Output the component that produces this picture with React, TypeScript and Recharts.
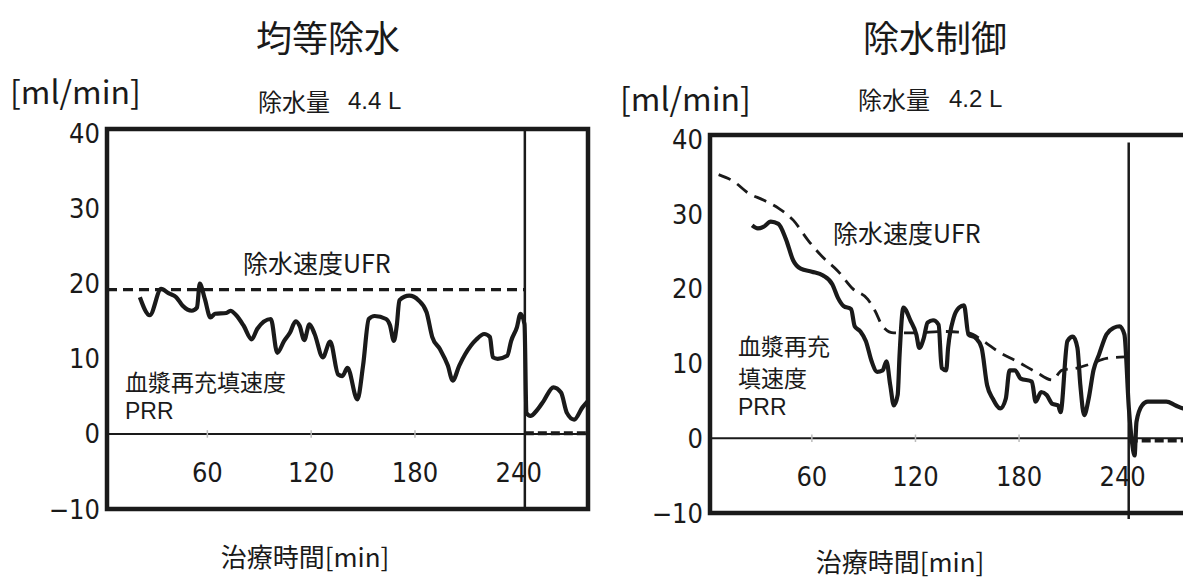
import React from 'react';
import { LineChart, Line, XAxis, YAxis, ReferenceLine, ReferenceArea } from 'recharts';

// ---------- shared axis ticks ----------
const xTicks = [60, 120, 180, 240];
const yTicks = [-10, 0, 10, 20, 30, 40];

// ---------- left panel: 均等除水 ----------
const leftPrr: [number, number][] = [
  [21, 18.2], [26.7, 15.8], [33.3, 19.3], [37.8, 18.7], [42, 18.2], [45.6, 17.1], [51, 16.4], [54, 16.8],
  [55.6, 20.0], [58.5, 18.0], [61.8, 15.5], [64.4, 16.0], [71, 16.1], [73.3, 16.4], [76.7, 15.8], [81, 14.4],
  [85.6, 12.6], [88.9, 14.0], [96.7, 15.3], [100.4, 10.8], [104.4, 12.4], [107.8, 13.5], [111, 15.0],
  [113.3, 14.4], [116, 12.5], [119, 14.6], [122, 13.3], [126.7, 10.2], [131, 12.3], [135.6, 7.9], [138, 7.7],
  [141, 8.8], [146.7, 4.6], [150, 9.1], [153.3, 15.3], [156.7, 15.7], [163.3, 15.3], [165.5, 14.5],
  [167.8, 12.4], [169.5, 14.5], [171, 17.8], [176.7, 18.4], [182, 17.8], [186.7, 16.2], [190, 12.9],
  [194.4, 11.3], [199, 9.1], [201.8, 7.1], [205.6, 9.1], [209, 10.6], [215.6, 12.6], [220, 13.3],
  [223.3, 12.9], [225, 10.2], [227.8, 10.0], [233.3, 10.4], [235.6, 12.4], [238.9, 14.2], [241, 16.0],
  [243.3, 14.6], [244.4, 2.8], [246.7, 2.4], [251, 3.3], [254.4, 4.4], [260, 6.2], [264.4, 5.5],
  [267.8, 2.8], [272, 1.9], [276.7, 3.5], [280, 4.4],
];
const leftUfr: [number, number][] = [[2, 19.2], [243.5, 19.2]];
const leftAfter: [number, number][] = [[243.5, 0.1], [280, 0.1]];

// ---------- right panel: 除水制御 ----------
const rightPrr: [number, number][] = [
  [25.4, 28.5], [28.7, 28.1], [31.9, 28.3], [36.2, 29.0], [40.6, 28.7], [44.9, 26.7], [49.2, 23.8],
  [53.5, 22.7], [60, 22.3], [66.5, 21.8], [71.9, 20.6], [75.1, 18.8], [78.4, 17.7], [82.7, 17.3],
  [84.8, 15.0], [88.1, 14.3], [91.3, 13.0], [94.6, 10.3], [97.8, 8.9], [101, 9.1], [103.2, 10.3],
  [105.4, 7.1], [107.5, 4.4], [109.7, 5.8], [110.8, 11.2], [113, 17.5], [117.2, 15.7], [120.5, 13.9],
  [122.2, 12.1], [124.8, 13.4], [127, 15.5], [130.2, 15.8], [133.4, 15.2], [135.2, 9.4], [137.8, 9.1],
  [138.9, 12.1], [142.1, 16.1], [145.3, 17.5], [148.1, 17.8], [150.7, 13.9], [155, 13.4], [158.3, 12.1],
  [161.5, 7.1], [164.8, 5.3], [169.1, 4.0], [172.3, 5.3], [174.5, 9.1], [177.7, 9.1], [180.9, 8.0],
  [187.4, 7.6], [189.6, 4.9], [192.8, 6.2], [196, 5.8], [199.3, 4.6], [202.6, 4.4], [204, 3.5],
  [208, 13.0], [211.2, 13.6], [213.8, 12.1], [215.5, 7.1], [217.7, 3.1], [220.3, 5.3], [223.1, 9.1],
  [226.3, 11.2], [230.6, 13.9], [234.9, 14.8], [238.2, 15.0], [241, 13.9], [243.6, 4.0], [245.4, -0.5],
  [246.9, -2.3], [248, 2.2], [251.2, 4.4], [254.5, 4.9], [265.3, 4.9], [270.7, 4.4], [275, 4.0], [279, 3.9],
];
const rightUfr: [number, number][] = [
  [6, 35.3], [14.6, 34.4], [23.3, 32.8], [31.9, 31.9], [40.6, 30.8], [49.2, 29.2], [57.8, 26.5],
  [66.5, 24.2], [75, 22.4], [83.8, 20.0], [92.4, 18.6], [96.7, 17.0], [101, 15.0], [107.5, 14.1],
  [120.5, 14.1], [135.6, 14.3], [150.7, 14.1], [159.4, 13.0], [168, 11.6], [178.8, 10.3], [189.6, 8.9],
  [199.3, 7.8], [204.7, 9.1], [213.3, 9.4], [222, 10.0], [230.6, 10.7], [241.4, 10.9],
];
const rightAfter: [number, number][] = [[243.5, -0.3], [279, -0.3]];

const toData = (pts: [number, number][]) => pts.map(([t, v]) => ({ t, v }));

const NUM_FONT = "'Liberation Sans Narrow', 'DejaVu Sans Condensed', 'Roboto Condensed', Roboto, sans-serif";
const LAT_FONT = "'Liberation Sans', Arial, sans-serif";
const CJK_FONT = "'Noto Sans CJK JP', 'Noto Sans', sans-serif";
const INK = '#1a1a1a';

const fmtY = (v: number) => (v < 0 ? `\u2212${-v}` : `${v}`);

const makeXTick = (up: number) => (props: any) => {
  const { x, y, payload } = props;
  return (
    <text x={x} y={y - up} textAnchor="middle" dominantBaseline="central"
      fontFamily={NUM_FONT} fontSize={27} fill={INK}>{payload.value}</text>
  );
};

const YTick = (props: any) => {
  const { x, y, payload } = props;
  return (
    <text x={x} y={y} textAnchor="end" dominantBaseline="central"
      fontFamily={NUM_FONT} fontSize={27} fill={INK}>{fmtY(payload.value)}</text>
  );
};

type PanelProps = {
  prr: [number, number][];
  ufr: [number, number][];
  after: [number, number][];
  xDomain: [number, number];
  yTop: number;
  margin: { top: number; right: number; bottom: number; left: number };
  tickUp: number;
  ufrDash: string;
  ufrWidth: number;
  vSegment: boolean;
};

const Panel = ({ prr, ufr, after, xDomain, yTop, margin, tickUp, ufrDash, ufrWidth, vSegment }: PanelProps) => (
  <LineChart width={600} height={578} margin={margin}>
    <XAxis type="number" dataKey="t" domain={xDomain} ticks={xTicks} allowDataOverflow
      axisLine={false} tickLine={false} tickSize={0} tickMargin={0} height={30}
      tick={makeXTick(tickUp)} interval={0} />
    <YAxis type="number" dataKey="v" domain={[-10, yTop]} ticks={yTicks} allowDataOverflow
      axisLine={false} tickLine={false} tickSize={0} tickMargin={7} width={60}
      tick={<YTick />} interval={0} />
    <ReferenceLine y={0} stroke={INK} strokeWidth={2} />
    {xTicks.slice(0, 3).map((t) => (
      <ReferenceLine key={t} segment={[{ x: t, y: -0.5 }, { x: t, y: 0.5 }]} stroke="#bbb" strokeWidth={1.5} />
    ))}
    {vSegment ? (
      <ReferenceLine segment={[{ x: 243.5, y: 39.6 }, { x: 243.5, y: -10.8 }]} stroke={INK} strokeWidth={2.5} ifOverflow="visible" />
    ) : (
      <ReferenceLine x={243.5} stroke={INK} strokeWidth={2.5} />
    )}
    <Line data={toData(ufr)} dataKey="v" type="monotone" stroke={INK} strokeWidth={ufrWidth}
      strokeDasharray={ufrDash} dot={false} isAnimationActive={false} />
    <Line data={toData(after)} dataKey="v" type="linear" stroke={INK} strokeWidth={4}
      strokeDasharray="9 4" dot={false} isAnimationActive={false} />
    <Line data={toData(prr)} dataKey="v" type="monotone" stroke={INK} strokeWidth={4.2}
      strokeLinejoin="round" dot={false} isAnimationActive={false} />
    <ReferenceArea x1={xDomain[0]} x2={xDomain[1]} y1={-10} y2={yTop} fill="none" fillOpacity={0}
      stroke={INK} strokeWidth={4.5} ifOverflow="visible" />
  </LineChart>
);

const T = ({ x, y, size, anchor = 'start', font = CJK_FONT, children }: any) => (
  <text x={x} y={y} fontSize={size} textAnchor={anchor} dominantBaseline="central" fontFamily={font} fill={INK}>
    {children}
  </text>
);

export default function App() {
  return (
    <div style={{ position: 'absolute', left: 0, top: 0, width: 1183, height: 578, overflow: 'hidden', background: '#fff' }}>
      <div style={{ position: 'absolute', left: 0, top: 0 }}>
        <Panel prr={leftPrr} ufr={leftUfr} after={leftAfter} xDomain={[2, 280]} yTop={40.6}
          margin={{ top: 129, right: 12, bottom: 39, left: 47 }} tickUp={37}
          ufrDash="10 6" ufrWidth={3.2} vSegment={false} />
      </div>
      <div style={{ position: 'absolute', left: 600, top: 0 }}>
        <Panel prr={rightPrr} ufr={rightUfr} after={rightAfter} xDomain={[1, 279]} yTop={40.6}
          margin={{ top: 135, right: 10, bottom: 35, left: 50 }} tickUp={37}
          ufrDash="13 8" ufrWidth={2.8} vSegment={true} />
      </div>
      <svg width={1183} height={578} style={{ position: 'absolute', left: 0, top: 0, pointerEvents: 'none' }}>
        <T x={328} y={36} size={36} anchor="middle">均等除水</T>
        <T x={10} y={90} size={32}>[ml/min]</T>
        <T x={258} y={100} size={24}>除水量</T>
        <T x={348} y={100} size={24} font={LAT_FONT}>4.4 L</T>
        <T x={243} y={262} size={25}>除水速度UFR</T>
        <text x={125} y={391} fontSize={23} fontFamily={CJK_FONT} fill={INK}>
          <tspan x={125} dy={0}>血漿再充填速度</tspan>
          <tspan x={125} dy={28} fontFamily={LAT_FONT}>PRR</tspan>
        </text>
        <T x={305} y={555} size={26} anchor="middle">治療時間[min]</T>

        <T x={935} y={36} size={36} anchor="middle">除水制御</T>
        <T x={620} y={97} size={32}>[ml/min]</T>
        <T x={858} y={98} size={24}>除水量</T>
        <T x={949} y={98} size={24} font={LAT_FONT}>4.2 L</T>
        <T x={833} y={232} size={25}>除水速度UFR</T>
        <text x={738} y={355} fontSize={23} fontFamily={CJK_FONT} fill={INK}>
          <tspan x={738} dy={0}>血漿再充</tspan>
          <tspan x={738} dy={32}>填速度</tspan>
          <tspan x={738} dy={28} fontFamily={LAT_FONT}>PRR</tspan>
        </text>
        <T x={900} y={560} size={26} anchor="middle">治療時間[min]</T>
      </svg>
    </div>
  );
}
